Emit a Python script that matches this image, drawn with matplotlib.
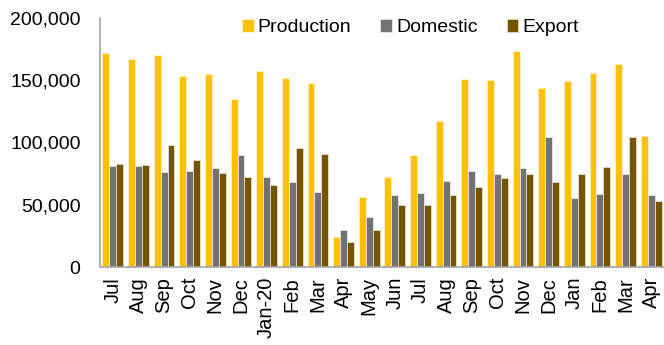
import numpy as np
import matplotlib
matplotlib.use("Agg")
import matplotlib.pyplot as plt
from matplotlib.ticker import FuncFormatter

plt.rcParams['font.family'] = ['Liberation Sans', 'DejaVu Sans']

# months from Jul 2019 to Apr 2021
months = ["Jul", "Aug", "Sep", "Oct", "Nov", "Dec", "Jan-20", "Feb", "Mar", "Apr", "May",
          "Jun", "Jul", "Aug", "Sep", "Oct", "Nov", "Dec", "Jan", "Feb", "Mar", "Apr"]
production = [171500, 167000, 170500, 153500, 155000, 135000, 157000, 151500, 147500, 24500,
              56500, 72000, 90000, 117500, 151000, 150000, 173500, 144000, 149000, 156000,
              163000, 105000]
domestic = [81000, 81000, 76500, 77500, 79500, 90000, 72000, 68500, 60000, 30000,
            40500, 58000, 59500, 69000, 77500, 74500, 79500, 104500, 55500, 59000,
            75000, 58000]
export = [82500, 82000, 98000, 86000, 75500, 72500, 65500, 95500, 90500, 20000,
          30000, 50000, 49500, 57500, 64000, 71500, 75000, 68500, 74500, 80000,
          104500, 53000]

col_prod = "#FFC000"
col_dom = "#727272"
col_exp = "#735500"

fig = plt.figure(figsize=(6.64, 3.45), dpi=100)
ax = fig.add_axes([0.1506, 0.226, 0.8494, 0.722])

x = np.arange(len(months))
w = 0.27
ax.bar(x - w, production, w, color=col_prod, edgecolor="#FFF3CC", linewidth=0.6, label="Production")
ax.bar(x, domestic, w, color=col_dom, edgecolor="#E6E6E6", linewidth=0.6, label="Domestic")
ax.bar(x + w, export, w, color=col_exp, edgecolor="#E6DDC8", linewidth=0.6, label="Export")

ax.set_xlim(-0.5, len(months) - 0.5)
ax.set_ylim(0, 200000)
ax.set_yticks([0, 50000, 100000, 150000, 200000])
ax.yaxis.set_major_formatter(FuncFormatter(lambda v, p: f"{int(v):,}"))
ax.set_xticks(x)
ax.set_xticklabels(months, rotation=90)
ax.tick_params(axis="y", length=0, labelsize=14, colors="black", pad=14)
ax.tick_params(axis="x", length=0, labelsize=14.5, colors="black", pad=7)

for s in ["top", "right"]:
    ax.spines[s].set_visible(False)
for s in ["left", "bottom"]:
    ax.spines[s].set_color("#A6A6A6")
    ax.spines[s].set_linewidth(1.2)

fig.legend(loc="upper center", bbox_to_anchor=(0.618, 0.995), ncol=3, frameon=False,
           fontsize=14, handlelength=0.6, handleheight=0.6, handletextpad=0.2,
           columnspacing=1.5)

fig.savefig("out.png", dpi=100)
